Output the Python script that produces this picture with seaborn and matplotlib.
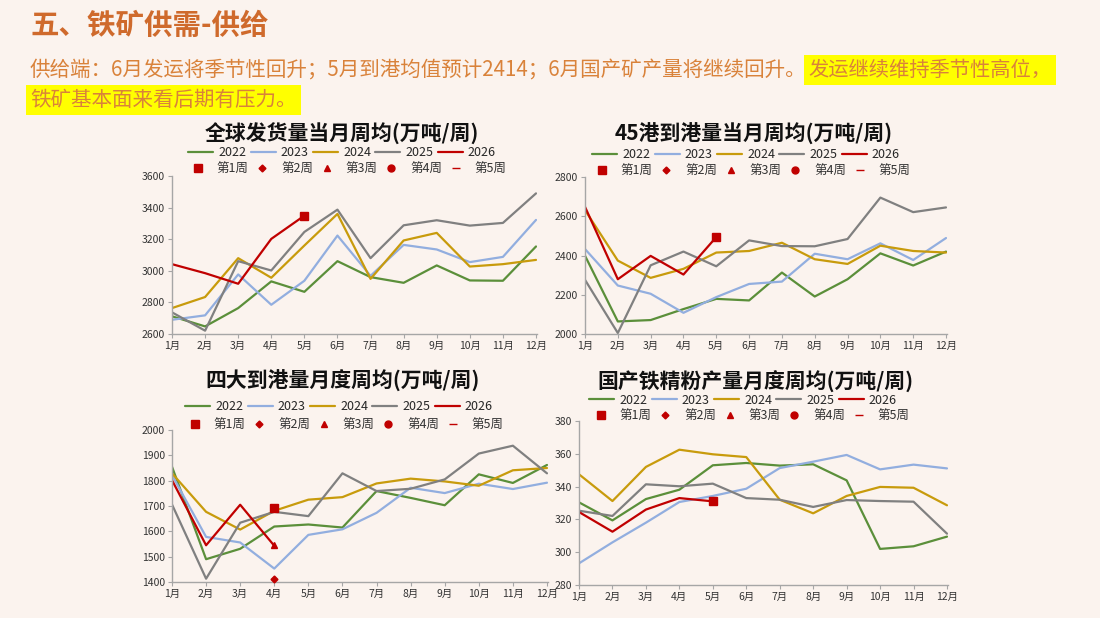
import pandas as pd
import matplotlib
matplotlib.use("Agg")
import matplotlib.pyplot as plt
import seaborn as sns
from matplotlib.lines import Line2D

# 数据
months = ["1月", "2月", "3月", "4月", "5月", "6月", "7月", "8月", "9月", "10月", "11月", "12月"]
years = ["2022", "2023", "2024", "2025", "2026"]
week_labels = ["第1周", "第2周", "第3周", "第4周", "第5周"]

# 全球发货量当月周均
ship_2022 = [2712, 2648, 2764, 2933, 2867, 3061, 2960, 2924, 3034, 2939, 2937, 3154]
ship_2023 = [2690, 2718, 2977, 2785, 2937, 3223, 2968, 3164, 3135, 3055, 3088, 3322]
ship_2024 = [2764, 2834, 3080, 2956, 3160, 3360, 2949, 3192, 3240, 3027, 3042, 3069]
ship_2025 = [2737, 2621, 3061, 3002, 3246, 3387, 3080, 3288, 3320, 3286, 3303, 3490]
ship_2026 = [3042, 2985, 2918, 3202, 3349]
ship_week = {"第1周": (4, 3349)}

# 45港到港量当月周均
port45_2022 = [2399, 2064, 2071, 2127, 2179, 2171, 2313, 2191, 2279, 2411, 2349, 2420]
port45_2023 = [2433, 2247, 2205, 2108, 2188, 2255, 2267, 2409, 2381, 2462, 2377, 2489]
port45_2024 = [2631, 2374, 2286, 2332, 2415, 2423, 2465, 2381, 2357, 2450, 2423, 2415]
port45_2025 = [2276, 2005, 2350, 2420, 2345, 2477, 2448, 2447, 2484, 2695, 2621, 2645]
port45_2026 = [2648, 2279, 2398, 2303, 2494]
port45_week = {"第1周": (4, 2494)}

# 四大到港量月度周均
big4_2022 = [1855, 1490, 1531, 1619, 1627, 1615, 1759, 1732, 1703, 1825, 1791, 1862]
big4_2023 = [1822, 1578, 1556, 1453, 1586, 1608, 1673, 1772, 1751, 1788, 1767, 1792]
big4_2024 = [1829, 1677, 1607, 1681, 1725, 1735, 1789, 1808, 1797, 1780, 1841, 1850]
big4_2025 = [1706, 1413, 1634, 1677, 1660, 1829, 1759, 1768, 1805, 1907, 1938, 1829]
big4_2026 = [1802, 1545, 1705, 1543]
big4_week = {"第1周": (3, 1694), "第2周": (3, 1413), "第3周": (3, 1545)}

# 国产铁精粉产量月度周均
conc_2022 = [330.4, 319.4, 332.4, 338.1, 353.0, 354.4, 352.8, 353.6, 343.8, 302.0, 303.6, 309.5]
conc_2023 = [293.2, 306.0, 318.0, 330.6, 334.3, 338.7, 351.3, 355.2, 359.3, 350.5, 353.4, 351.1]
conc_2024 = [347.5, 331.2, 352.0, 362.5, 359.7, 358.0, 332.0, 323.7, 334.3, 339.8, 339.3, 328.6]
conc_2025 = [325.3, 322.1, 341.4, 340.2, 341.8, 333.0, 332.0, 327.6, 331.8, 331.2, 330.8, 311.3]
conc_2026 = [324.5, 312.5, 326.0, 333.0, 331.0]
conc_week = {"第1周": (4, 331.0)}

colors = ["#5B8F3A", "#92AEDF", "#C89B0C", "#808080", "#C00000"]
red = "#C00000"
week_markers = {"第1周": ("s", 5.5), "第2周": ("D", 3.5), "第3周": ("^", 4.5),
                "第4周": ("o", 5), "第5周": ("_", 6)}

bg = "#FBF3EE"
W, H = 1100, 618

sns.set_style("ticks")
plt.rcParams["font.family"] = ["Noto Sans CJK SC", "DejaVu Sans"]

fig = plt.figure(figsize=(11, 6.18), dpi=100)
fig.patch.set_facecolor(bg)


def px_axes(left, top, right, bottom):
    return fig.add_axes([left / W, 1 - bottom / H, (right - left) / W, (bottom - top) / H])


def draw_panel(ax, series, weeks, ylim, ystep, title, title_xy, leg1_xy, leg2_xy):
    frames = []
    for yr, vals in zip(years, series):
        frames.append(pd.DataFrame({"m": range(len(vals)), "v": vals, "year": yr}))
    df = pd.concat(frames, ignore_index=True)
    sns.lineplot(data=df, x="m", y="v", hue="year", palette=colors, linewidth=1.6,
                 legend=False, ax=ax)
    for wk, (mx, val) in weeks.items():
        mk, ms = week_markers[wk]
        ax.plot([mx], [val], marker=mk, markersize=ms, color=red, linestyle="none",
                clip_on=False, zorder=5)
    ax.set_facecolor(bg)
    ax.set_xlim(0, 11.03)
    ax.set_ylim(*ylim)
    ax.set_xticks(range(12))
    ax.set_xticklabels(months)
    ax.set_yticks(range(ylim[0], ylim[1] + 1, ystep))
    ax.set_xlabel("")
    ax.set_ylabel("")
    for s in ["top", "right"]:
        ax.spines[s].set_visible(False)
    for s in ["left", "bottom"]:
        ax.spines[s].set_color("#A6A6A6")
        ax.spines[s].set_linewidth(1.0)
    ax.tick_params(axis="both", colors="#A6A6A6", length=3, width=0.8,
                   labelsize=7.5, labelcolor="#333333", pad=2)
    fig.text(title_xy[0] / W, 1 - title_xy[1] / H, title, ha="center", va="center",
             fontsize=15, fontweight="bold", color="#111111")
    h1 = [Line2D([], [], color=c, lw=1.6) for c in colors]
    fig.legend(h1, years, loc="center", bbox_to_anchor=(leg1_xy[0] / W, 1 - leg1_xy[1] / H),
               ncol=5, frameon=False, fontsize=9, handlelength=2.0, handletextpad=0.4,
               columnspacing=0.35, borderpad=0, borderaxespad=0)
    h2 = [Line2D([], [], color=red, marker=week_markers[w][0], markersize=week_markers[w][1],
                 linestyle="none") for w in week_labels]
    leg = fig.legend(h2, week_labels, loc="center",
                     bbox_to_anchor=(leg2_xy[0] / W, 1 - leg2_xy[1] / H),
                     ncol=5, frameon=False, fontsize=9, handlelength=1.0, handletextpad=1.0,
                     columnspacing=0.6, borderpad=0, borderaxespad=0)
    for t in leg.get_texts():
        t.set_color("#333333")


ax1 = px_axes(172, 176, 537, 334)
draw_panel(ax1, [ship_2022, ship_2023, ship_2024, ship_2025, ship_2026], ship_week,
           (2600, 3600), 200, "全球发货量当月周均(万吨/周)", (342, 134), (342, 153), (349, 169))

ax2 = px_axes(585, 177, 947, 334)
draw_panel(ax2, [port45_2022, port45_2023, port45_2024, port45_2025, port45_2026], port45_week,
           (2000, 2800), 200, "45港到港量当月周均(万吨/周)", (754, 134), (746, 155), (753, 171))

ax3 = px_axes(172, 430, 548, 582)
draw_panel(ax3, [big4_2022, big4_2023, big4_2024, big4_2025, big4_2026], big4_week,
           (1400, 2000), 100, "四大到港量月度周均(万吨/周)", (343, 381), (339, 407), (346, 425))

ax4 = px_axes(579, 421, 948, 585)
draw_panel(ax4, [conc_2022, conc_2023, conc_2024, conc_2025, conc_2026], conc_week,
           (280, 380), 20, "国产铁精粉产量月度周均(万吨/周)", (755, 382), (743, 400), (752, 416))

# 标题与说明文字
fig.text(30 / W, 1 - 26 / H, "五、铁矿供需-供给", fontsize=20.5, fontweight="bold",
         color="#CF6A2C", va="center", ha="left")
t1 = fig.text(30 / W, 1 - 70 / H, "供给端：6月发运将季节性回升；5月到港均值预计2414；6月国产矿产量将继续回升。",
              fontsize=14.8, color="#D9823A", va="center", ha="left")
fig.canvas.draw()
bb = t1.get_window_extent()
fig.text(bb.x1 / W + 2 / W, 1 - 70 / H, "发运继续维持季节性高位，", fontsize=14.6, color="#D9823A",
         va="center", ha="left", bbox=dict(facecolor="#FFFF00", edgecolor="none", pad=3))
fig.text(30 / W, 1 - 100 / H, "铁矿基本面来看后期有压力。", fontsize=14.8, color="#D9823A",
         va="center", ha="left", bbox=dict(facecolor="#FFFF00", edgecolor="none", pad=3))

fig.savefig("out.png", dpi=100, facecolor=bg)
